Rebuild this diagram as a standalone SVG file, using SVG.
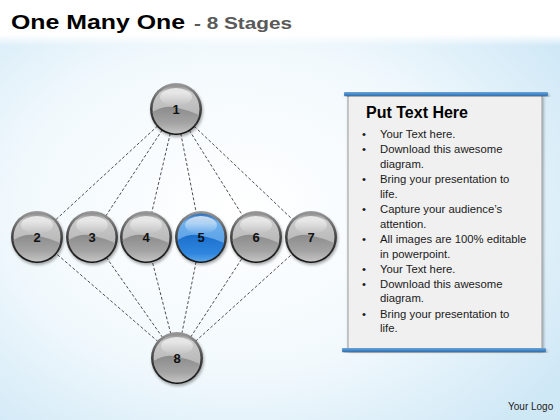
<svg xmlns="http://www.w3.org/2000/svg" xmlns:xlink="http://www.w3.org/1999/xlink" width="560" height="420" viewBox="0 0 560 420">
<defs>
  <radialGradient id="bg" cx="0.42" cy="0.5" r="0.7">
    <stop offset="0" stop-color="#ffffff"/>
    <stop offset="0.55" stop-color="#f2f9fd"/>
    <stop offset="1" stop-color="#cfe8f6"/>
  </radialGradient>
  <linearGradient id="topFade" x1="0" y1="0" x2="0" y2="1">
    <stop offset="0" stop-color="#ffffff" stop-opacity="1"/>
    <stop offset="0.75" stop-color="#ffffff" stop-opacity="1"/>
    <stop offset="1" stop-color="#ffffff" stop-opacity="0"/>
  </linearGradient>
  <linearGradient id="rim" x1="0" y1="0" x2="0" y2="1">
    <stop offset="0" stop-color="#9a9a9a"/>
    <stop offset="0.5" stop-color="#444"/>
    <stop offset="1" stop-color="#111"/>
  </linearGradient>
  <linearGradient id="grayTop" x1="0" y1="0" x2="0" y2="1">
    <stop offset="0" stop-color="#8f8f8f"/>
    <stop offset="0.15" stop-color="#c9c9c9"/>
    <stop offset="0.5" stop-color="#bdbdbd"/>
    <stop offset="1" stop-color="#a9a9a9"/>
  </linearGradient>
  <linearGradient id="grayBot" x1="0" y1="0" x2="0" y2="1">
    <stop offset="0" stop-color="#8c8c8c"/>
    <stop offset="0.6" stop-color="#a3a3a3"/>
    <stop offset="1" stop-color="#c4c4c4"/>
  </linearGradient>
  <linearGradient id="blueTop" x1="0" y1="0" x2="0" y2="1">
    <stop offset="0" stop-color="#2f6fb8"/>
    <stop offset="0.2" stop-color="#6fb0ec"/>
    <stop offset="1" stop-color="#4a95e0"/>
  </linearGradient>
  <linearGradient id="blueBot" x1="0" y1="0" x2="0" y2="1">
    <stop offset="0" stop-color="#1c6fcc"/>
    <stop offset="0.7" stop-color="#2f86de"/>
    <stop offset="1" stop-color="#5aa5ea"/>
  </linearGradient>
  <linearGradient id="shine" x1="0" y1="0" x2="0" y2="1">
    <stop offset="0" stop-color="#ffffff" stop-opacity="0.75"/>
    <stop offset="1" stop-color="#ffffff" stop-opacity="0"/>
  </linearGradient>
  <linearGradient id="bar" x1="0" y1="0" x2="0" y2="1">
    <stop offset="0" stop-color="#6aa6da"/>
    <stop offset="1" stop-color="#2e6fb3"/>
  </linearGradient>
  <filter id="sh" x="-20%" y="-20%" width="140%" height="140%">
    <feGaussianBlur in="SourceAlpha" stdDeviation="1.5"/>
    <feOffset dx="1" dy="1.5"/>
    <feComponentTransfer><feFuncA type="linear" slope="0.35"/></feComponentTransfer>
    <feMerge><feMergeNode/><feMergeNode in="SourceGraphic"/></feMerge>
  </filter>
  <g id="sphereGray">
    <circle r="26" fill="url(#rim)"/>
    <circle r="23.5" fill="url(#grayTop)"/>
    <path d="M -23.4 3 Q -12 -4 0 -1.5 Q 12 1 23 6 A 23.5 23.5 0 0 1 -23.4 3 Z" fill="url(#grayBot)"/>
    <ellipse cx="0" cy="-12" rx="16" ry="9" fill="url(#shine)"/>
  </g>
  <g id="sphereBlue">
    <circle r="26" fill="url(#rim)"/>
    <circle r="23.5" fill="url(#blueTop)"/>
    <path d="M -23.4 3 Q -12 -4 0 -1.5 Q 12 1 23 6 A 23.5 23.5 0 0 1 -23.4 3 Z" fill="url(#blueBot)"/>
    <ellipse cx="0" cy="-12" rx="16" ry="9" fill="url(#shine)"/>
  </g>
</defs>
<style>
  .title { font-family: "Liberation Sans", Arial, sans-serif; font-weight: bold; }
  .num { font-family: "Liberation Sans", Arial, sans-serif; font-weight: bold; font-size: 13px; fill: #111; text-anchor: middle; }
  .body { font-family: "Liberation Sans", Arial, sans-serif; font-size: 11.3px; fill: #1a1a1a; }
  .dash { stroke: #222; stroke-width: 0.8; stroke-dasharray: 3 2; fill: none; }
</style>

<rect x="0" y="0" width="560" height="420" fill="url(#bg)"/>
<rect x="0" y="0" width="560" height="46" fill="url(#topFade)"/>

<text class="title" x="11" y="29" font-size="21" fill="#000" textLength="174" lengthAdjust="spacingAndGlyphs">One Many One</text>
<text class="title" x="194" y="29" font-size="17" fill="#595959" textLength="98" lengthAdjust="spacingAndGlyphs">- 8 Stages</text>

<g id="connectors">
  <line class="dash" x1="176" y1="109" x2="37" y2="237"/>
  <line class="dash" x1="176" y1="109" x2="92" y2="237"/>
  <line class="dash" x1="176" y1="109" x2="146" y2="237"/>
  <line class="dash" x1="176" y1="109" x2="201" y2="237"/>
  <line class="dash" x1="176" y1="109" x2="256" y2="237"/>
  <line class="dash" x1="176" y1="109" x2="311" y2="237"/>
  <line class="dash" x1="177" y1="358" x2="37" y2="237"/>
  <line class="dash" x1="177" y1="358" x2="92" y2="237"/>
  <line class="dash" x1="177" y1="358" x2="146" y2="237"/>
  <line class="dash" x1="177" y1="358" x2="201" y2="237"/>
  <line class="dash" x1="177" y1="358" x2="256" y2="237"/>
  <line class="dash" x1="177" y1="358" x2="311" y2="237"/>
</g>

<g id="node1" transform="translate(176,109)"><use href="#sphereGray" filter="url(#sh)"/><text class="num" y="5">1</text></g>
<g id="node2" transform="translate(37,237)"><use href="#sphereGray" filter="url(#sh)"/><text class="num" y="5">2</text></g>
<g id="node3" transform="translate(92,237)"><use href="#sphereGray" filter="url(#sh)"/><text class="num" y="5">3</text></g>
<g id="node4" transform="translate(146,237)"><use href="#sphereGray" filter="url(#sh)"/><text class="num" y="5">4</text></g>
<g id="node5" transform="translate(201,237)"><use href="#sphereBlue" filter="url(#sh)"/><text class="num" y="5">5</text></g>
<g id="node6" transform="translate(256,237)"><use href="#sphereGray" filter="url(#sh)"/><text class="num" y="5">6</text></g>
<g id="node7" transform="translate(311,237)"><use href="#sphereGray" filter="url(#sh)"/><text class="num" y="5">7</text></g>
<g id="node8" transform="translate(177,358)"><use href="#sphereGray" filter="url(#sh)"/><text class="num" y="5">8</text></g>

<g id="panel">
  <rect x="348" y="95" width="194" height="254" fill="#f0f0f0" stroke="#9a9a9a" stroke-width="1" filter="url(#sh)"/>
  <rect x="344" y="92" width="204" height="4" rx="1" fill="url(#bar)" filter="url(#sh)"/>
  <rect x="342" y="348" width="204" height="4" rx="1" fill="url(#bar)" filter="url(#sh)"/>
  <text class="title" x="366" y="118" font-size="16" fill="#000" textLength="102" lengthAdjust="spacingAndGlyphs">Put Text Here</text>
  <g class="body">
    <text x="362" y="138">•</text><text x="380" y="138">Your Text here.</text>
    <text x="362" y="153">•</text><text x="380" y="153">Download this awesome</text>
    <text x="380" y="168">diagram.</text>
    <text x="362" y="183">•</text><text x="380" y="183">Bring your presentation to</text>
    <text x="380" y="198">life.</text>
    <text x="362" y="213">•</text><text x="380" y="213">Capture your audience’s</text>
    <text x="380" y="228">attention.</text>
    <text x="362" y="243">•</text><text x="380" y="243">All images are 100% editable</text>
    <text x="380" y="258">in powerpoint.</text>
    <text x="362" y="273">•</text><text x="380" y="273">Your Text here.</text>
    <text x="362" y="288">•</text><text x="380" y="288">Download this awesome</text>
    <text x="380" y="302">diagram.</text>
    <text x="362" y="318">•</text><text x="380" y="318">Bring your presentation to</text>
    <text x="380" y="332">life.</text>
  </g>
</g>

<text x="508" y="410" font-family="Liberation Sans, Arial, sans-serif" font-size="10" fill="#222">Your Logo</text>
</svg>
